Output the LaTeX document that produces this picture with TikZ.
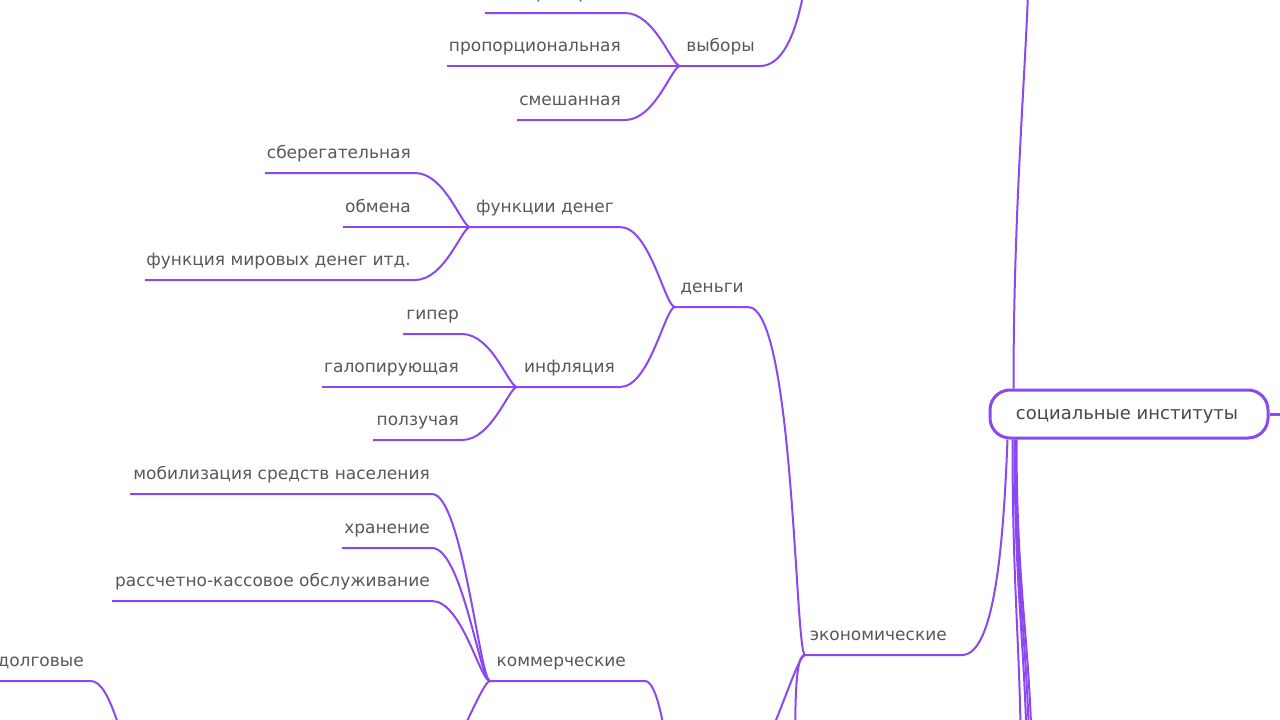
\documentclass[tikz,border=0pt]{standalone}
\usepackage{fontspec}
\setmainfont{DejaVu Sans}
\definecolor{vio}{RGB}{140,72,240}
\definecolor{txt}{RGB}{88,88,88}
\definecolor{txtd}{RGB}{72,72,72}
\begin{document}
\begin{tikzpicture}[x=1pt,y=-1pt,
  conn/.style={draw=vio,line width=2pt},
  lbl/.style={font=\fontsize{17}{20}\selectfont,text=txt,inner sep=0pt,anchor=base east},
  rootbox/.style={draw=vio,line width=3pt,fill=white,rounded corners=20pt,
    minimum width=278pt,minimum height=48pt,inner sep=0pt,
    text height=14pt,text depth=4pt,
    font=\fontsize{18}{21}\selectfont,text=txtd}]
\useasboundingbox (0,0) rectangle (1280,720);
\fill[white] (0,0) rectangle (1280,720);
\clip (0,0) rectangle (1280,720);

% ---------- coordinates of the underlines ----------
\coordinate (maj-l) at (485,13);  \coordinate (maj-r) at (625,13);
\coordinate (prop-l) at (447,66); \coordinate (prop-r) at (625,66);
\coordinate (mix-l) at (517,120); \coordinate (mix-r) at (625,120);
\coordinate (vyb-l) at (680,66);  \coordinate (vyb-r) at (760,66);
\coordinate (vyb-p) at (808,-40);

\coordinate (sber-l) at (265,173); \coordinate (sber-r) at (415,173);
\coordinate (obm-l) at (343,227);  \coordinate (obm-r) at (415,227);
\coordinate (mir-l) at (145,280);  \coordinate (mir-r) at (415,280);
\coordinate (fun-l) at (470,227);  \coordinate (fun-r) at (620,227);
\coordinate (gip-l) at (403,334);  \coordinate (gip-r) at (462,334);
\coordinate (gal-l) at (322,387);  \coordinate (gal-r) at (462,387);
\coordinate (pol-l) at (373,440);  \coordinate (pol-r) at (462,440);
\coordinate (inf-l) at (517,387);  \coordinate (inf-r) at (620,387);
\coordinate (den-l) at (675,307);  \coordinate (den-r) at (748,307);
\coordinate (eco-l) at (805,655);  \coordinate (eco-r) at (962,655);
\coordinate (e1) at (730,790);     \coordinate (e2) at (795,780);

\coordinate (mob-l) at (130,494);  \coordinate (mob-r) at (432,494);
\coordinate (hra-l) at (342,548);  \coordinate (hra-r) at (432,548);
\coordinate (ras-l) at (112,601);  \coordinate (ras-r) at (432,601);
\coordinate (kom-l) at (490,681);  \coordinate (kom-r) at (645,681);
\coordinate (kom-p) at (672,790);  \coordinate (kc) at (410,800);
\coordinate (dol-l) at (-5,681);   \coordinate (dol-r) at (91,681);
\coordinate (dol-p) at (140,800);

% ---------- central node ----------
\node[rootbox] (root) at (1129,414) {\hspace*{-4pt}социальные институты};
\coordinate (root-r) at (1290,414);
\coordinate (top-p) at (1029,-40);
\coordinate (b1) at (1021,760);
\coordinate (b2) at (1027,760);
\coordinate (b3) at (1029.5,760);
\coordinate (b4) at (1032,760);

% ---------- labels ----------
\node[lbl] (maj) at (621,-1.5) {мажоритарная};
\node[lbl] (prop) at (621,51.5) {пропорциональная};
\node[lbl] (mix) at (621,105.5) {смешанная};
\node[lbl] (vyb) at (755,51.5) {выборы};
\node[lbl] (sber) at (411,158.5) {сберегательная};
\node[lbl] (obm) at (411,212.5) {обмена};
\node[lbl] (mir) at (411,265.5) {функция мировых денег итд.};
\node[lbl] (fun) at (614,212.5) {функции денег};
\node[lbl] (gip) at (459,319.5) {гипер};
\node[lbl] (gal) at (459,372.5) {галопирующая};
\node[lbl] (pol) at (459,425.5) {ползучая};
\node[lbl] (inf) at (615,372.5) {инфляция};
\node[lbl] (den) at (744,292.5) {деньги};
\node[lbl] (eco) at (947,640.5) {экономические};
\node[lbl] (mob) at (430,479.5) {мобилизация средств населения};
\node[lbl] (hra) at (430,533.5) {хранение};
\node[lbl] (ras) at (430,586.5) {рассчетно-кассовое обслуживание};
\node[lbl] (kom) at (626,666.5) {коммерческие};
\node[lbl] (dol) at (84,666.5) {долговые};

% ---------- connectors ----------
\draw[conn] (maj-l) -- (maj-r) .. controls +(30,0) and +(-8,0) .. (vyb-l);
\draw[conn] (prop-l) -- (prop-r) -- (vyb-l);
\draw[conn] (mix-l) -- (mix-r) .. controls +(30,0) and +(-8,0) .. (vyb-l);
\draw[conn] (vyb-l) -- (vyb-r) .. controls +(32,0) and +(-4,40) .. (vyb-p);

\draw[conn] (sber-l) -- (sber-r) .. controls +(30,0) and +(-8,0) .. (fun-l);
\draw[conn] (obm-l) -- (obm-r) -- (fun-l);
\draw[conn] (mir-l) -- (mir-r) .. controls +(30,0) and +(-8,0) .. (fun-l);
\draw[conn] (fun-l) -- (fun-r) .. controls +(30,0) and +(-10,0) .. (den-l);
\draw[conn] (gip-l) -- (gip-r) .. controls +(30,0) and +(-8,0) .. (inf-l);
\draw[conn] (gal-l) -- (gal-r) -- (inf-l);
\draw[conn] (pol-l) -- (pol-r) .. controls +(30,0) and +(-8,0) .. (inf-l);
\draw[conn] (inf-l) -- (inf-r) .. controls +(30,0) and +(-10,0) .. (den-l);
\draw[conn] (den-l) -- (den-r) .. controls +(46,0) and +(-10,0) .. (eco-l);
\draw[conn] (eco-l) -- (eco-r) .. controls +(33,0) and +(-4,102) .. ([xshift=19pt]root.south west);
\draw[conn] (e1) .. controls +(30,0) and +(-10,0) .. (eco-l);
\draw[conn] (eco-l) .. controls +(-10,0) and +(0,-80) .. (e2);

\draw[conn] (mob-l) -- (mob-r) .. controls +(30,0) and +(-10,0) .. (kom-l);
\draw[conn] (hra-l) -- (hra-r) .. controls +(30,0) and +(-10,0) .. (kom-l);
\draw[conn] (ras-l) -- (ras-r) .. controls +(30,0) and +(-10,0) .. (kom-l);
\draw[conn] (kc) .. controls +(30,0) and +(-10,0) .. (kom-l);
\draw[conn] (kom-l) -- (kom-r) .. controls +(12,0) and +(-6,-60) .. (kom-p);
\draw[conn] (dol-l) -- (dol-r) .. controls +(20,0) and +(-15,-50) .. (dol-p);

\draw[conn] ([xshift=25pt]root.north west) .. controls +(0,-190) and +(-2,100) .. (top-p);
\draw[conn] ([xshift=24pt]root.south west) .. controls +(0,150) and +(-1,-120) .. (b1);
\draw[conn] ([xshift=26pt]root.south west) .. controls +(0,150) and +(-2,-120) .. (b2);
\draw[conn] ([xshift=27pt]root.south west) .. controls +(0,150) and +(-2,-120) .. (b3);
\draw[conn] ([xshift=28pt]root.south west) .. controls +(0,150) and +(-2,-120) .. (b4);
\draw[vio,line width=3pt] (root.east) -- (root-r);
\end{tikzpicture}
\end{document}
